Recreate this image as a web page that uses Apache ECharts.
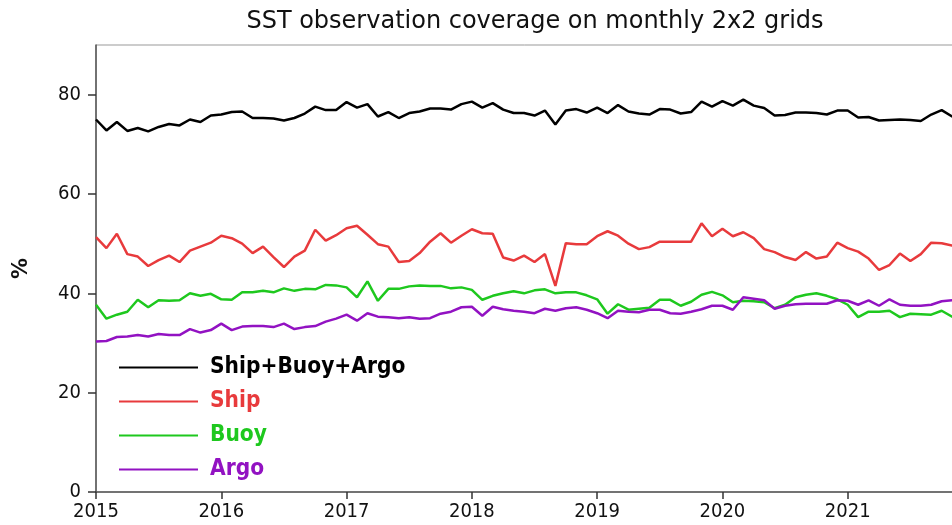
<!DOCTYPE html>
<html>
<head>
<meta charset="utf-8">
<script src="https://cdn.jsdelivr.net/npm/echarts@6/dist/echarts.min.js"></script>
<style>
  html, body { margin: 0; padding: 0; background: #fff; }
  #chart { width: 952px; height: 525px; }
</style>
</head>
<body>
<div id="chart"></div>
<script>
// monthly values from Jan 2015
var startYear = 2015;
var seriesNames = ['Ship+Buoy+Argo', 'Ship', 'Buoy', 'Argo'];
var seriesColors = ['#000000', '#e83a3c', '#1ec81e', '#9212c2'];
var yearTicks = [2015, 2016, 2017, 2018, 2019, 2020, 2021];
var pctTicks = [0, 20, 40, 60, 80];

var total = [
  75.0, 72.8, 74.5, 72.7, 73.3, 72.6, 73.5, 74.1, 73.8, 75.0, 74.5, 75.8,
  76.0, 76.5, 76.6, 75.3, 75.3, 75.2, 74.8, 75.3, 76.2, 77.6, 76.9, 76.9,
  78.5, 77.4, 78.1, 75.6, 76.5, 75.3, 76.3, 76.6, 77.2, 77.2, 77.0, 78.1,
  78.6, 77.4, 78.3, 77.0, 76.3, 76.3, 75.8, 76.8, 74.0, 76.8, 77.1, 76.4,
  77.4, 76.3, 77.9, 76.6, 76.2, 76.0, 77.1, 77.0, 76.2, 76.5, 78.6, 77.6,
  78.7, 77.8, 79.0, 77.8, 77.3, 75.8, 75.9, 76.4, 76.4, 76.3, 76.0, 76.8,
  76.8, 75.4, 75.5, 74.8, 74.9, 75.0, 74.9, 74.7, 76.0, 76.9, 75.6, 75.8
];
var ship = [
  51.3, 49.1, 52.0, 47.9, 47.4, 45.5, 46.7, 47.6, 46.3, 48.6, 49.4, 50.2,
  51.6, 51.1, 50.0, 48.1, 49.4, 47.3, 45.3, 47.4, 48.6, 52.8, 50.6, 51.7,
  53.1, 53.6, 51.8, 49.9, 49.4, 46.3, 46.5, 48.1, 50.4, 52.1, 50.2, 51.6,
  52.9, 52.1, 52.0, 47.2, 46.6, 47.6, 46.3, 47.9, 41.5, 50.1, 49.9, 49.9,
  51.5, 52.5, 51.6, 50.0, 48.9, 49.3, 50.4, 50.4, 50.4, 50.4, 54.1, 51.5,
  53.0, 51.5, 52.3, 51.1, 48.9, 48.3, 47.3, 46.7, 48.3, 47.0, 47.4, 50.2,
  49.1, 48.4, 47.0, 44.7, 45.7, 48.0, 46.5, 47.9, 50.2, 50.1, 49.6, 49.5
];
var buoy = [
  37.7, 34.9, 35.7, 36.3, 38.7, 37.2, 38.6, 38.5, 38.6, 40.0, 39.5, 39.9,
  38.8, 38.7, 40.2, 40.2, 40.5, 40.2, 41.0, 40.5, 40.9, 40.8, 41.7, 41.6,
  41.2, 39.2, 42.4, 38.5, 40.9, 40.9, 41.4, 41.6, 41.5, 41.5, 41.0, 41.2,
  40.7, 38.7, 39.5, 40.0, 40.4, 40.0, 40.6, 40.8, 40.0, 40.2, 40.2, 39.6,
  38.8, 35.9, 37.8, 36.7, 36.9, 37.1, 38.7, 38.7, 37.5, 38.3, 39.7, 40.3,
  39.6, 38.2, 38.5, 38.4, 38.2, 37.0, 37.7, 39.2, 39.7, 40.0, 39.5, 38.8,
  37.7, 35.2, 36.3, 36.3, 36.5, 35.2, 35.9, 35.8, 35.7, 36.5, 35.3, 35.4
];
var argo = [
  30.3, 30.4, 31.2, 31.3, 31.6, 31.3, 31.8, 31.6, 31.6, 32.8, 32.1, 32.6,
  33.9, 32.6, 33.3, 33.4, 33.4, 33.2, 33.9, 32.8, 33.2, 33.4, 34.3, 34.9,
  35.7, 34.5, 36.0, 35.3, 35.2, 35.0, 35.2, 34.9, 35.0, 35.9, 36.3, 37.2,
  37.3, 35.5, 37.3, 36.8, 36.5, 36.3, 36.0, 36.9, 36.5, 37.0, 37.2, 36.7,
  36.0, 35.0, 36.5, 36.3, 36.2, 36.7, 36.7, 36.0, 35.9, 36.3, 36.8, 37.5,
  37.5, 36.7, 39.2, 38.9, 38.6, 36.9, 37.5, 37.8, 37.9, 37.9, 37.9, 38.6,
  38.5, 37.7, 38.6, 37.5, 38.8, 37.7, 37.5, 37.5, 37.7, 38.4, 38.6, 38.6
];

function toPoints(values) {
  return values.map(function (v, i) { return [startYear + i / 12, v]; });
}

var chart = echarts.init(document.getElementById('chart'));

var allValues = [total, ship, buoy, argo];
var series = seriesNames.map(function (name, k) {
  return {
    name: name,
    type: 'line',
    data: toPoints(allValues[k]),
    symbol: 'none',
    animation: false,
    clip: true,
    lineStyle: { color: seriesColors[k], width: 2.5 },
    itemStyle: { color: seriesColors[k] }
  };
});

chart.setOption({
  backgroundColor: '#fff',
  title: {
    text: 'SST observation coverage on monthly 2x2 grids',
    left: 530,
    top: 5,
    textAlign: 'center',
    textStyle: {
      fontFamily: 'DejaVu Sans',
      fontSize: 24,
      fontWeight: 'normal',
      color: '#111'
    }
  },
  grid: {
    left: 96,
    top: 45,
    right: -21,
    bottom: 33,
    outerBoundsMode: 'none',
    containLabel: false,
    show: true,
    borderColor: '#999',
    borderWidth: 1
  },
  legend: {
    orient: 'vertical',
    left: 119,
    top: 356,
    padding: 0,
    icon: 'rect',
    itemWidth: 79,
    itemHeight: 2,
    itemGap: 11,
    data: seriesNames.map(function (name, k) {
      return { name: name, textStyle: { color: seriesColors[k] } };
    }),
    textStyle: {
      fontFamily: 'DejaVu Sans Condensed',
      fontWeight: 'bold',
      fontSize: 22.5,
      padding: [0, 0, 0, 7]
    }
  },
  xAxis: {
    type: 'value',
    min: 2015,
    max: 2022,
    interval: 1,
    splitLine: { show: false },
    axisLine: { lineStyle: { color: '#555', width: 1.5 } },
    axisTick: { length: 7, lineStyle: { color: '#333', width: 1.5 } },
    axisLabel: {
      margin: 10,
      fontFamily: 'DejaVu Sans Condensed',
      fontSize: 20,
      color: '#111',
      formatter: function (v) {
        return yearTicks.indexOf(v) >= 0 ? String(v) : '';
      }
    }
  },
  yAxis: {
    type: 'value',
    min: 0,
    max: 90,
    interval: 20,
    name: '%',
    nameLocation: 'middle',
    nameGap: 64,
    nameTextStyle: {
      fontFamily: 'DejaVu Sans',
      fontWeight: 'bold',
      fontSize: 21,
      color: '#111'
    },
    splitLine: { show: false },
    axisLine: { lineStyle: { color: '#555', width: 1.5 } },
    axisTick: { length: 8, customValues: pctTicks, lineStyle: { color: '#333', width: 1.5 } },
    axisLabel: {
      margin: 15,
      customValues: pctTicks,
      fontFamily: 'DejaVu Sans Condensed',
      fontSize: 20,
      color: '#111'
    }
  },
  series: series
});
</script>
</body>
</html>
